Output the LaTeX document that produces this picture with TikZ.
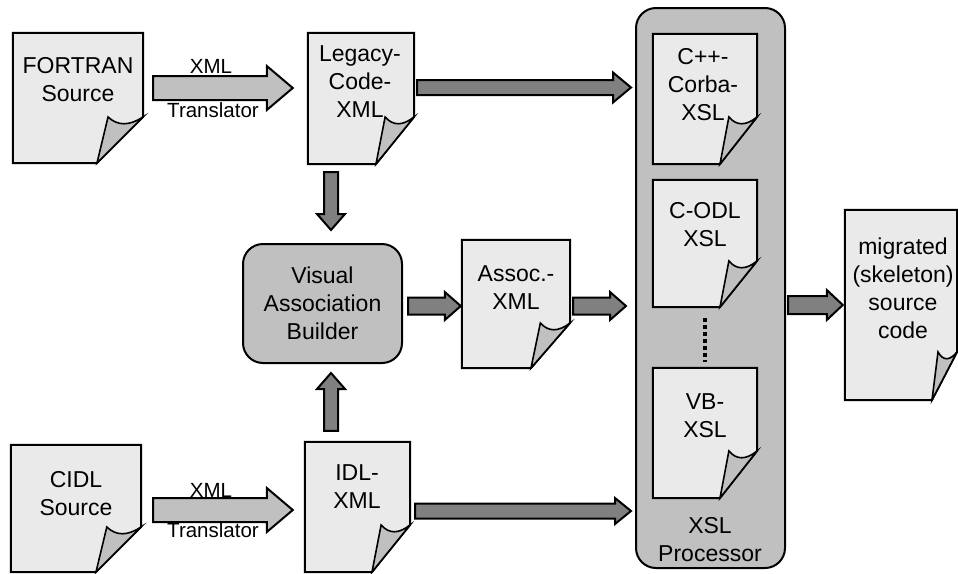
\documentclass[tikz,border=0pt]{standalone}
\usepackage{fontspec}
\setmainfont{Liberation Sans}
\usetikzlibrary{calc}
\definecolor{pagefill}{HTML}{EAEAEA}
\definecolor{flapfill}{HTML}{C0C0C0}
\definecolor{boxfill}{HTML}{C0C0C0}
\definecolor{darkarrow}{HTML}{808080}
% #1 name, #2 x1, #3 y1, #4 x2, #5 y2, #6 fold dx, #7 fold dy
\newcommand\docpage[7]{%
  \node[inner sep=0, minimum width={(#4-#2)*1pt}, minimum height={(#5-#3)*1pt}] (#1) at ({(#2+#4)/2},{(#3+#5)/2}) {};
  \filldraw[pagestyle] (#1.north west) -- (#1.north east) -- (#4,{#5-#7}) -- ({#4-#6},#5) -- (#1.south west) -- cycle;
  \filldraw[flapstyle] (#4,{#5-#7}) .. controls ({#4-0.3*#6},{#5-#7+9}) and ({#4-0.55*#6},{#5-#7+9}) .. ({#4-0.76*#6},{#5-#7}) -- ({#4-#6},#5) -- cycle;
}
% horizontal block arrow: #1 style, #2 start, #3 tip, #4 y, #5 shaft half, #6 head half, #7 head length
\newcommand\harrow[7]{%
  \draw[#1] let \p1=(#2), \p2=(#3), \p3=(0,#4) in
    (\x1,{\y3+(#5)*1pt}) -- ({\x2-(#7)*1pt},{\y3+(#5)*1pt}) -- ({\x2-(#7)*1pt},{\y3+(#6)*1pt}) -- (\x2,\y3)
    -- ({\x2-(#7)*1pt},{\y3-(#6)*1pt}) -- ({\x2-(#7)*1pt},{\y3-(#5)*1pt}) -- (\x1,{\y3-(#5)*1pt}) -- cycle;
}
% vertical block arrow: #1 style, #2 start, #3 tip, #4 x, #5 shaft half, #6 head half, #7 signed head length (actual units)
\newcommand\varrow[7]{%
  \draw[#1] let \p1=(#2), \p2=(#3), \p3=(#4,0) in
    ({\x3-(#5)*1pt},\y1) -- ({\x3-(#5)*1pt},{\y2+(#7)*1pt}) -- ({\x3-(#6)*1pt},{\y2+(#7)*1pt}) -- (\x3,\y2)
    -- ({\x3+(#6)*1pt},{\y2+(#7)*1pt}) -- ({\x3+(#5)*1pt},{\y2+(#7)*1pt}) -- ({\x3+(#5)*1pt},\y1) -- cycle;
}
\begin{document}
\begin{tikzpicture}[x=1pt,y=-1pt,
  pagestyle/.style={draw=black, fill=pagefill, line width=2},
  flapstyle/.style={draw=black, fill=flapfill, line width=1.6},
  txt/.style={font=\fontsize{23}{28}\selectfont, align=center, inner sep=0},
  lbl/.style={font=\fontsize{20.5}{24}\selectfont, inner sep=0},
  darkarr/.style={draw=black, fill=darkarrow, line width=2},
  lightarr/.style={draw=black, fill=flapfill, line width=2},
  roundbox/.style={draw=black, fill=boxfill, line width=2, rounded corners=20, inner sep=0}]
\useasboundingbox (0,0) rectangle (958,573);

% XSL processor container
\node[roundbox, minimum width=149, minimum height=560] (xslp) at (710.5,288) {};

% documents
\docpage{fort}{13}{33}{143}{163}{46}{46}
\docpage{leg}{308}{33}{414}{164}{38}{47}
\docpage{cpp}{653}{34}{757}{164}{37}{47}
\docpage{codl}{653}{180}{757}{307}{37}{46}
\docpage{vb}{653}{368}{757}{498}{37}{47}
\docpage{assoc}{462}{240}{570}{368}{39}{45}
\docpage{cidl}{11}{445}{141}{572}{45}{45}
\docpage{idl}{305}{442}{410}{572}{38}{47}
\docpage{mig}{845}{210}{957}{400}{25}{48}

% Visual Association Builder
\node[roundbox, txt, minimum width=159, minimum height=119] (vab) at (322.5,303.5) {Visual\\Association\\Builder};

% document texts
\node[txt] (fortT) at (78,79.5) {FORTRAN\\Source};
\node[txt] (legT) at (360,82) {Legacy-\\Code-\\XML};
\node[txt] (cppT) at (703,84.5) {C++-\\Corba-\\XSL};
\node[txt] (codlT) at (705,225) {C-ODL\\XSL};
\node[txt] (vbT) at (705,416) {VB-\\XSL};
\node[txt] (xslT) at (710,540) {XSL\\Processor};
\node[txt] (migT) at (903,288) {migrated\\(skeleton)\\source\\code};
\node[txt] (assocT) at (516,288) {Assoc.-\\XML};
\node[txt] (cidlT) at (76,494) {CIDL\\Source};
\node[txt] (idlT) at (357,487) {IDL-\\XML};

% dotted continuation
\draw[line width=3.5, dash pattern=on 4 off 3] ($(codl.south)+(0,11)$) -- ($(vb.north)+(0,-6)$);

% translator arrows
\harrow{lightarr}{$(fort.east)+(10,0)$}{$(leg.west)-(15,0)$}{88}{12}{22}{26}
\node[lbl, anchor=base] (xml1) at (211,73) {XML};
\node[lbl, anchor=base] (tr1) at (213,117) {Translator};
\harrow{lightarr}{$(cidl.east)+(12,0)$}{$(idl.west)-(12,0)$}{510}{12}{22}{26}
\node[lbl, anchor=base] (xml2) at (211,497) {XML};
\node[lbl, anchor=base] (tr2) at (213,537) {Translator};

% dark arrows
\harrow{darkarr}{$(leg.east)+(3,0)$}{$(xslp.west)-(4,0)$}{87.5}{7.5}{15}{18}
\harrow{darkarr}{$(vab.east)+(5,0)$}{$(assoc.west)-(1,0)$}{306}{8.5}{14}{16}
\harrow{darkarr}{$(assoc.east)+(3,0)$}{$(xslp.west)-(9,0)$}{306}{8.5}{14}{16}
\harrow{darkarr}{$(idl.east)+(5,0)$}{$(xslp.west)-(4,0)$}{511}{7.5}{13}{16}
\harrow{darkarr}{$(xslp.east)+(2,0)$}{$(mig.west)-(2,0)$}{305}{9}{15}{16}
\varrow{darkarr}{$(leg.south)+(0,8)$}{$(vab.north)+(0,-13)$}{331}{7}{14}{16}
\varrow{darkarr}{$(idl.north)+(0,-11)$}{$(vab.south)+(0,9)$}{331}{7}{14}{-16}
\end{tikzpicture}
\end{document}
